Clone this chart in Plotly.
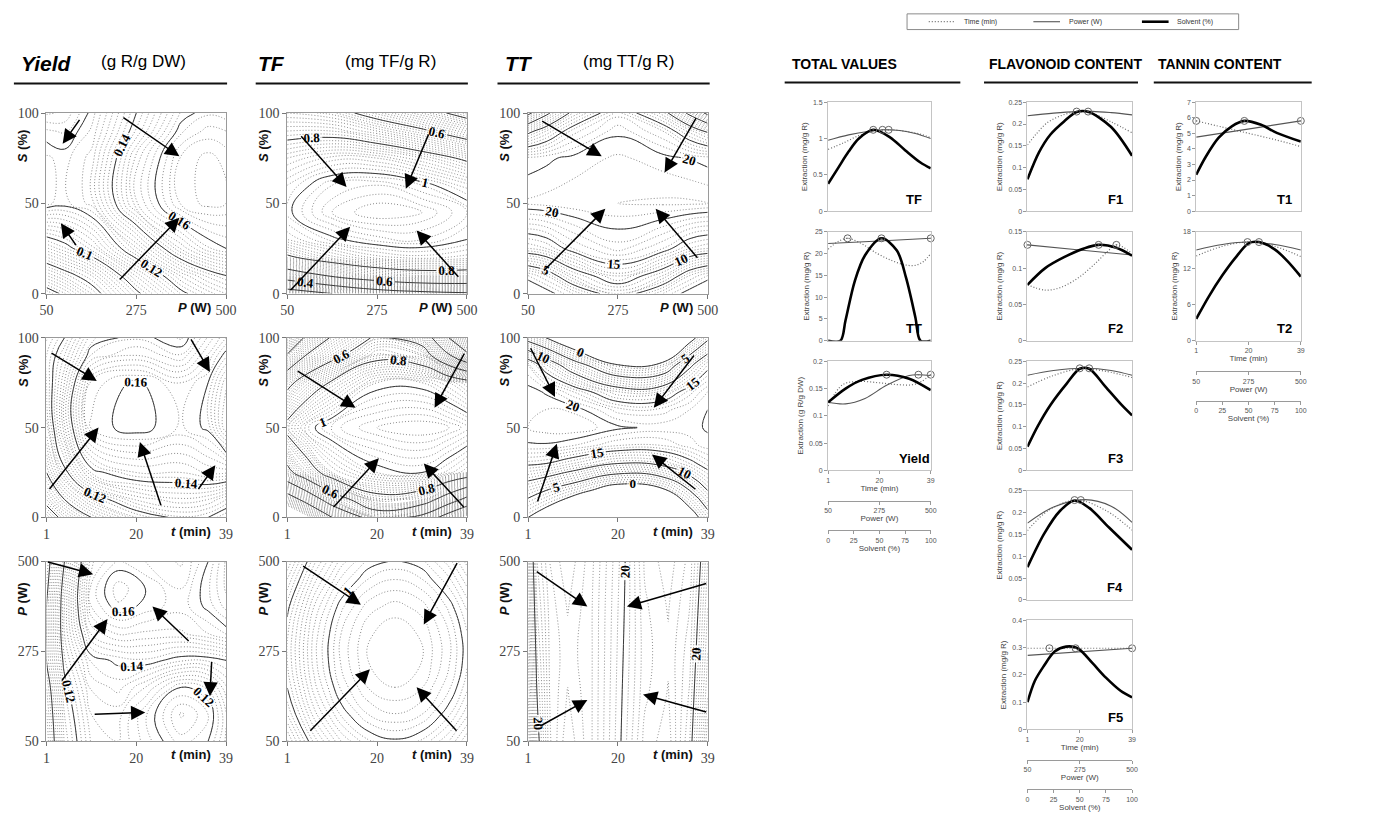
import plotly.graph_objects as go

W, H = 1374, 814

# ---------------- axis variables ----------------
P_RANGE = [50, 500]
T_RANGE = [1, 39]
S_RANGE = [0, 100]
P_TICKS = [50, 275, 500]
T_TICKS = [1, 20, 39]
S_TICKS = [0, 50, 100]
POWER_TICKS = [50, 275, 500]
SOLVENT_TICKS = [0, 25, 50, 75, 100]
TIME_TICKS = [0, 0.5, 1]
TIME_TICKTEXT = ['1', '20', '39']
LEGEND_NAMES = ['Time (min)', 'Power (W)', 'Solvent (%)']

# ---------------- contour surfaces (grid nodes as fraction of axis range) ----------------
# A: Yield, P x S
A_U = [0, .1, .25, .5, .75, .9, 1]
A_V = [0, .1, .25, .5, .75, .9, 1]
A_Z = [[0.055, 0.062, 0.075, 0.098, 0.118, 0.126, 0.13],
       [0.07, 0.076, 0.085, 0.108, 0.128, 0.136, 0.14],
       [0.092, 0.097, 0.106, 0.127, 0.148, 0.157, 0.16],
       [0.123, 0.1215, 0.126, 0.152, 0.168, 0.171, 0.17],
       [0.123, 0.1215, 0.126, 0.151, 0.168, 0.171, 0.169],
       [0.118, 0.117, 0.123, 0.143, 0.162, 0.166, 0.165],
       [0.112, 0.113, 0.121, 0.14, 0.158, 0.162, 0.161]]
# B: TF, P x S
B_U = [0, .25, .5, .75, 1]
B_V = [0, .05, .1, .2, .3, .45, .6, .75, .9, 1]
B_Z = [[0.1, 0.2, 0.3, 0.35, 0.38],
       [0.3, 0.42, 0.52, 0.57, 0.58],
       [0.5, 0.62, 0.7, 0.74, 0.74],
       [0.78, 0.87, 0.93, 0.95, 0.93],
       [0.92, 0.99, 1.03, 1.04, 1.0],
       [0.99, 1.08, 1.12, 1.1, 1.04],
       [0.96, 1.04, 1.06, 1.02, 0.95],
       [0.88, 0.93, 0.92, 0.86, 0.78],
       [0.76, 0.76, 0.7, 0.62, 0.52],
       [0.68, 0.65, 0.55, 0.46, 0.35]]
# C: TT, P x S
C_U = [0, .1, .25, .5, .75, .9, 1]
C_V = [0, .1, .25, .5, .75, .9, 1]
C_Z = [[-3, -1, 2, 7, 2, -1, -3],
       [1, 3, 8, 12.5, 8, 3, 1],
       [12, 13, 16, 18.5, 16, 13, 12],
       [21.2, 21.4, 21.7, 22, 22.2, 22.2, 22],
       [19.3, 19.7, 20.4, 21.2, 20.5, 19.9, 19.5],
       [9, 12, 16.5, 19.7, 17, 12.5, 9.5],
       [-1, 4, 11, 17.5, 11.5, 4, -1]]
# D: Yield, t x S
D_U = [0, .1, .25, .5, .75, .9, 1]
D_V = [0, .1, .25, .5, .75, .9, 1]
D_Z = [[0.07, 0.085, 0.1, 0.115, 0.122, 0.12, 0.115],
       [0.085, 0.1, 0.115, 0.128, 0.132, 0.13, 0.125],
       [0.1, 0.118, 0.138, 0.145, 0.145, 0.148, 0.148],
       [0.112, 0.132, 0.158, 0.162, 0.157, 0.161, 0.175],
       [0.115, 0.13, 0.156, 0.161, 0.155, 0.16, 0.172],
       [0.115, 0.125, 0.143, 0.148, 0.143, 0.153, 0.162],
       [0.112, 0.12, 0.137, 0.142, 0.137, 0.148, 0.155]]
# E: TF, t x S
E_U = [0, .1, .25, .5, .75, .9, 1]
E_V = [0, .1, .25, .5, .75, .9, 1]
E_Z = [[-0.2, -0.05, 0.2, 0.5, 0.35, 0.1, -0.05],
       [0.1, 0.25, 0.5, 0.75, 0.7, 0.5, 0.35],
       [0.55, 0.7, 0.88, 0.98, 1.0, 0.95, 0.9],
       [0.85, 0.97, 1.05, 1.1, 1.12, 1.1, 1.07],
       [0.55, 0.68, 0.82, 0.98, 0.98, 0.92, 0.86],
       [0.22, 0.4, 0.55, 0.76, 0.7, 0.42, 0.25],
       [0.0, 0.22, 0.42, 0.63, 0.52, 0.2, 0.0]]
# F: TT, t x S
F_U = [0, .1, .25, .5, .75, .9, 1]
F_V = [0, .15, .3, .4, .5, .6, .7, .85, 1]
F_Z = [[0, -3, -8, -14, -10, -3, 3],
       [7, 5, 2, -3, -1, 5, 10],
       [15.5, 15, 13, 10, 11, 14, 16.5],
       [19.8, 19.8, 19, 17, 17, 18.5, 19.5],
       [21, 21.5, 21.8, 20.3, 19.6, 19.5, 20.2],
       [20.8, 21, 20.8, 17.5, 17.5, 19, 20],
       [20.6, 19.8, 17, 12, 12.5, 16.5, 19],
       [18, 13, 7, 0, 1, 9, 14],
       [3, 0, -5, -12, -10, -2, 4]]
# G: Yield, t x P
G_U = [0, .1, .25, .4, .55, .75, .9, 1]
G_V = [0, .15, .3, .45, .6, .75, .85, 1]
G_Z = [[0.09, 0.113, 0.128, 0.13, 0.124, 0.116, 0.12, 0.128],
       [0.092, 0.115, 0.13, 0.131, 0.123, 0.112, 0.117, 0.127],
       [0.095, 0.118, 0.133, 0.136, 0.13, 0.12, 0.123, 0.132],
       [0.1, 0.122, 0.138, 0.141, 0.142, 0.138, 0.138, 0.14],
       [0.1, 0.125, 0.148, 0.153, 0.152, 0.152, 0.155, 0.158],
       [0.1, 0.125, 0.155, 0.162, 0.159, 0.156, 0.161, 0.166],
       [0.098, 0.124, 0.156, 0.164, 0.16, 0.155, 0.162, 0.168],
       [0.095, 0.12, 0.152, 0.158, 0.155, 0.152, 0.16, 0.168]]
# H: TF, t x P
H_U = [0, .15, .3, .45, .6, .75, .9, 1]
H_V = [0, .15, .3, .45, .6, .75, .9, 1]
H_Z = [[0.696, 0.827, 0.920, 0.976, 0.995, 0.976, 0.920, 0.862],
       [0.760, 0.891, 0.984, 1.040, 1.059, 1.040, 0.984, 0.926],
       [0.801, 0.932, 1.025, 1.081, 1.100, 1.081, 1.025, 0.967],
       [0.820, 0.951, 1.044, 1.100, 1.119, 1.100, 1.044, 0.986],
       [0.816, 0.947, 1.040, 1.096, 1.115, 1.096, 1.040, 0.982],
       [0.790, 0.921, 1.014, 1.070, 1.089, 1.070, 1.014, 0.956],
       [0.741, 0.872, 0.965, 1.021, 1.040, 1.021, 0.965, 0.907],
       [0.700, 0.835, 0.930, 0.986, 1.005, 0.986, 0.930, 0.872]]
# I: TT, t x P
I_U = [0, .05, .12, .22, .35, .53, .65, .78, .9, .95, 1]
I_V = [0, .25, .5, .75, 1]
I_Z = [[15.5, 19.5, 22.4, 23.9, 22.6, 19.8, 17.8, 17.2, 19.5, 21.5, 24],
       [16.5, 20, 22.5, 23.55, 22.6, 19.9, 18.1, 17.45, 19.1, 21, 23],
       [17, 20.5, 22.6, 23.3, 22.6, 20, 18.2, 17.6, 18.8, 20.5, 22.5],
       [17.5, 21, 22.7, 23.55, 22.6, 20.1, 18.1, 17.45, 18.5, 20.1, 22],
       [18, 21.5, 23, 23.9, 22.7, 20.2, 17.9, 17.2, 18.2, 19.6, 21.5]]

# arrows: (tail_u, tail_v, head_u, head_v), fractions of axis ranges
A_ARROWS = [(0.19, 0.97, 0.09, 0.83), (0.42, 0.98, 0.74, 0.76), (0.17, 0.26, 0.08, 0.39), (0.40, 0.07, 0.74, 0.42)]
B_ARROWS = [(0.07, 0.88, 0.33, 0.59), (0.79, 0.89, 0.66, 0.58), (0.01, 0.01, 0.35, 0.37), (0.96, 0.085, 0.72, 0.35)]
C_ARROWS = [(0.07, 0.96, 0.41, 0.76), (0.94, 0.98, 0.76, 0.67), (0.08, 0.12, 0.43, 0.47), (0.95, 0.19, 0.71, 0.47)]
D_ARROWS = [(0.02, 0.92, 0.28, 0.76), (0.80, 1.0, 0.91, 0.81), (0.01, 0.15, 0.29, 0.50), (0.64, 0.06, 0.52, 0.42), (0.84, 0.15, 0.94, 0.29)]
E_ARROWS = [(0.05, 0.82, 0.38, 0.61), (0.99, 0.92, 0.82, 0.61), (0.25, 0.05, 0.51, 0.33), (0.99, 0.05, 0.76, 0.30)]
F_ARROWS = [(0.01, 0.95, 0.15, 0.67), (0.93, 0.91, 0.70, 0.61), (0.05, 0.08, 0.16, 0.41), (0.94, 0.15, 0.69, 0.35)]
G_ARROWS = [(0.0, 1.0, 0.26, 0.93), (0.08, 0.33, 0.34, 0.68), (0.80, 0.55, 0.59, 0.75), (0.92, 0.45, 0.91, 0.25), (0.26, 0.15, 0.55, 0.16)]
H_ARROWS = [(0.08, 0.98, 0.41, 0.76), (0.95, 1.0, 0.76, 0.65), (0.12, 0.05, 0.46, 0.40), (0.95, 0.05, 0.72, 0.30)]
I_ARROWS = [(0.04, 0.95, 0.33, 0.75), (1.0, 0.88, 0.55, 0.75), (0.06, 0.08, 0.33, 0.23), (1.0, 0.16, 0.64, 0.26)]

# ---------------- line panels (x as fraction of factor range) ----------------
TF_TIME_X = [0, .15, .3, .45, .6, .75, .9, 1];        TF_TIME_Y = [0.85, 0.94, 1.04, 1.1, 1.12, 1.1, 1.06, 1.01]
TF_POW_X = [0, .2, .4, .53, .7, .85, 1];              TF_POW_Y = [0.975, 1.05, 1.1, 1.12, 1.11, 1.07, 1.0]
TF_SOL_X = [0, .1, .2, .3, .44, .6, .75, .9, 1];      TF_SOL_Y = [0.377, 0.6, 0.82, 1.0, 1.12, 1.02, 0.84, 0.67, 0.59]
TF_OPT_X = [0.44, 0.53, 0.59];                        TF_OPT_Y = [1.12, 1.12, 1.12]

TT_TIME_X = [0, .1, .19, .3, .48, .62, .75, .85, .93, 1]; TT_TIME_Y = [21, 22.8, 23.5, 22.6, 20, 18.4, 17.4, 17.3, 18.2, 20]
TT_POW_X = [0, .5, 1];                                TT_POW_Y = [22.3, 22.9, 23.5]
TT_SOL_X = [0, .12, .17, .26, .36, .52, .67, .76, .85, .9, 1]; TT_SOL_Y = [0, 0, 4.7, 13.7, 19.6, 23.5, 20.7, 14.4, 5.4, 0, 0]
TT_OPT_X = [0.19, 0.52, 1.0];                         TT_OPT_Y = [23.5, 23.5, 23.5]

YL_TIME_X = [0, .14, .29, .48, .63, .82, .91, 1];     YL_TIME_Y = [0.118, 0.157, 0.163, 0.161, 0.158, 0.157, 0.163, 0.1755]
YL_POW_X = [0, .17, .36, .57, .79, .88, 1];           YL_POW_Y = [0.125, 0.122, 0.132, 0.156, 0.174, 0.1755, 0.174]
YL_SOL_X = [0, .17, .33, .57, .79, 1];                YL_SOL_Y = [0.1248, 0.15, 0.166, 0.1755, 0.168, 0.147]
YL_OPT_X = [0.57, 0.88, 1.0];                         YL_OPT_Y = [0.1755, 0.1755, 0.1755]

F1_TIME_X = [0, .08, .19, .32, .47, .62, .8, 1];      F1_TIME_Y = [0.152, 0.176, 0.203, 0.219, 0.228, 0.224, 0.205, 0.18]
F1_POW_X = [0, .25, .47, .62, .8, 1];                 F1_POW_Y = [0.219, 0.225, 0.2285, 0.229, 0.226, 0.221]
F1_SOL_X = [0, .11, .22, .35, .47, .58, .8, 1];       F1_SOL_Y = [0.073, 0.135, 0.176, 0.206, 0.2275, 0.228, 0.193, 0.127]
F1_OPT_X = [0.47, 0.58];                              F1_OPT_Y = [0.2285, 0.2285]

F2_TIME_X = [0, .17, .31, .48, .63, .76, .85, 1];     F2_TIME_Y = [0.077, 0.0697, 0.073, 0.086, 0.104, 0.122, 0.132, 0.12]
F2_POW_X = [0, .5, 1];                                F2_POW_Y = [0.132, 0.125, 0.118]
F2_SOL_X = [0, .17, .35, .54, .68, .85, 1];           F2_SOL_Y = [0.077, 0.1, 0.115, 0.127, 0.132, 0.128, 0.117]
F2_OPT_X = [0, 0.68, 0.85];                           F2_OPT_Y = [0.132, 0.132, 0.132]

F3_TIME_X = [0, .22, .5, .75, 1];                     F3_TIME_Y = [0.191, 0.215, 0.233, 0.227, 0.213]
F3_POW_X = [0, .25, .55, .8, 1];                      F3_POW_Y = [0.218, 0.229, 0.234, 0.229, 0.218]
F3_SOL_X = [0, .1, .22, .375, .5, .59, .745, .9, 1];  F3_SOL_Y = [0.054, 0.102, 0.15, 0.199, 0.233, 0.233, 0.192, 0.15, 0.126]
F3_OPT_X = [0.5, 0.59];                               F3_OPT_Y = [0.234, 0.234]

F4_TIME_X = [0, .2, .47, .75, 1];                     F4_TIME_Y = [0.159, 0.205, 0.229, 0.205, 0.16]
F4_POW_X = [0, .25, .55, .8, 1];                      F4_POW_Y = [0.176, 0.213, 0.23, 0.215, 0.178]
F4_SOL_X = [0, .16, .31, .45, .59, .78, 1];           F4_SOL_Y = [0.075, 0.152, 0.204, 0.228, 0.211, 0.166, 0.115]
F4_OPT_X = [0.45, 0.51];                              F4_OPT_Y = [0.229, 0.229]

F5_TIME_X = [0, .5, 1];                               F5_TIME_Y = [0.298, 0.298, 0.298]
F5_POW_X = [0, 1];                                    F5_POW_Y = [0.272, 0.298]
F5_SOL_X = [0, .07, .155, .26, .37, .48, .62, .75, .89, 1]; F5_SOL_Y = [0.1, 0.178, 0.232, 0.286, 0.304, 0.298, 0.244, 0.19, 0.142, 0.118]
F5_OPT_X = [0.21, 0.46, 1.0];                         F5_OPT_Y = [0.298, 0.298, 0.298]

T1_TIME_X = [0, .25, .5, .75, 1];                     T1_TIME_Y = [5.8, 5.4, 5.0, 4.6, 4.15]
T1_POW_X = [0, 1];                                    T1_POW_Y = [4.76, 5.8]
T1_SOL_X = [0, .09, .215, .34, .46, .62, .77, 1];     T1_SOL_Y = [2.34, 3.48, 4.72, 5.45, 5.8, 5.55, 5.03, 4.47]
T1_OPT_X = [0, 0.46, 1];                              T1_OPT_Y = [5.8, 5.8, 5.8]

T2_TIME_X = [0, .25, .5, .75, 1];                     T2_TIME_Y = [14.0, 15.6, 16.3, 15.6, 13.9]
T2_POW_X = [0, .25, .5, .75, 1];                      T2_POW_Y = [15.0, 15.9, 16.3, 15.9, 15.0]
T2_SOL_X = [0, .12, .25, .37, .5, .6, .75, .87, 1];   T2_SOL_Y = [3.6, 7.3, 10.8, 13.6, 16.1, 16.3, 15.1, 13.2, 10.6]
T2_OPT_X = [0.49, 0.6];                               T2_OPT_Y = [16.3, 16.3]

# ---------------- helpers ----------------
fig = go.Figure()
layout = {}
annotations = []
shapes = []
counter = [0]

DOT = '1px,2px'
TIME_STYLE = dict(color='#6a6a6a', width=1.2, dash=DOT)
POW_STYLE = dict(color='#555555', width=1.1)
SOL_STYLE = dict(color='black', width=2.6)


def xdom(a, b):
    return [a / W, b / W]


def ydom(top, bottom):
    return [1 - bottom / H, 1 - top / H]


def new_axes(xd, yd, xcfg, ycfg):
    counter[0] += 1
    i = counter[0]
    sfx = '' if i == 1 else str(i)
    layout['xaxis' + sfx] = dict(domain=xd, anchor='y' + sfx, **xcfg)
    layout['yaxis' + sfx] = dict(domain=yd, anchor='x' + sfx, **ycfg)
    return 'x' + sfx, 'y' + sfx


def scale(fr, rng):
    return [rng[0] + f * (rng[1] - rng[0]) for f in fr]


def ptext(x, y, text, size, anchor='left', color='black', family='Liberation Sans', angle=0):
    annotations.append(dict(x=x / W, y=1 - y / H, xref='paper', yref='paper', text=text, showarrow=False,
                            xanchor=anchor, yanchor='middle', textangle=angle,
                            font=dict(family=family, size=size, color=color)))


def hline(x0, x1, y, width=2, color='#111', dash='solid'):
    shapes.append(dict(type='line', xref='paper', yref='paper', x0=x0 / W, x1=x1 / W,
                       y0=1 - y / H, y1=1 - y / H, line=dict(color=color, width=width, dash=dash)))


# ---------------- contour grid ----------------
VARS = {'P': (P_RANGE, P_TICKS, '<b><i>P</i> (W)</b>'),
        't': (T_RANGE, T_TICKS, '<b><i>t</i> (min)</b>'),
        'S': (S_RANGE, S_TICKS, '<b><i>S</i> (%)</b>')}

COLS_PX = [(40, 222), (284, 466), (528, 710)]
ROWS_PX = [(108, 292), (337, 520), (565, 748)]
ROW_VARS = [('P', 'S'), ('t', 'S'), ('t', 'P')]

LEVELS = [dict(major=(0.06, 0.18, 0.02), minor=(0.04, 0.2, 0.0025), fmt='.2~f'),
          dict(major=(0.2, 1.2, 0.2), minor=(0.0, 1.2, 0.02), fmt='.1~f'),
          dict(major=(0, 20, 5), minor=(0, 25, 1), fmt='d')]

PANELS = [[(A_U, A_V, A_Z, A_ARROWS), (B_U, B_V, B_Z, B_ARROWS), (C_U, C_V, C_Z, C_ARROWS)],
          [(D_U, D_V, D_Z, D_ARROWS), (E_U, E_V, E_Z, E_ARROWS), (F_U, F_V, F_Z, F_ARROWS)],
          [(G_U, G_V, G_Z, G_ARROWS), (H_U, H_V, H_Z, H_ARROWS), (I_U, I_V, I_Z, I_ARROWS)]]

SERIF = 'Liberation Serif'
for r, (top, bot) in enumerate(ROWS_PX):
    xv, yv = ROW_VARS[r]
    xrng, xticks, xtitle = VARS[xv]
    yrng, yticks, ytitle = VARS[yv]
    for c, (left, right) in enumerate(COLS_PX):
        U, V, Z, ARR = PANELS[r][c]
        axcommon = dict(showgrid=False, zeroline=False, showline=True, mirror=True, linecolor='#9a9a9a',
                        linewidth=1, ticks='outside', ticklen=4, tickcolor='#777',
                        tickfont=dict(family=SERIF, size=14, color='#444'))
        xr, yr = new_axes(xdom(left, right), ydom(top, bot),
                          dict(range=xrng, tickvals=xticks, **axcommon),
                          dict(range=yrng, tickvals=yticks, **axcommon))
        xs = scale(U, xrng)
        ys = scale(V, yrng)
        lv = LEVELS[c]
        minor = lv['minor']
        if r == 2 and c == 2:
            minor = (15, 25, 0.5)
        fig.add_trace(go.Contour(x=xs, y=ys, z=Z, xaxis=xr, yaxis=yr, autocontour=False, showscale=False,
                                 hoverinfo='skip', showlegend=False,
                                 contours=dict(coloring='none', start=minor[0], end=minor[1], size=minor[2]),
                                 line=dict(color='#7f7f7f', width=0.9, dash=DOT, smoothing=1.3)))
        mj = lv['major']
        fig.add_trace(go.Contour(x=xs, y=ys, z=Z, xaxis=xr, yaxis=yr, autocontour=False, showscale=False,
                                 hoverinfo='skip', showlegend=False,
                                 contours=dict(coloring='none', start=mj[0], end=mj[1], size=mj[2],
                                               showlabels=True, labelformat=lv['fmt'],
                                               labelfont=dict(family=SERIF, size=13, color='black',
                                                              weight='bold')),
                                 line=dict(color='#3a3a3a', width=1, smoothing=1.3)))
        for (tu, tv, hu, hv) in ARR:
            tx, hx = scale([tu, hu], xrng)
            ty, hy = scale([tv, hv], yrng)
            annotations.append(dict(x=hx, y=hy, ax=tx, ay=ty, xref=xr, yref=yr, axref=xr, ayref=yr,
                                    text='', showarrow=True, arrowhead=2, arrowsize=1.9, arrowwidth=1.5,
                                    arrowcolor='black', standoff=0))
        ptext(right - 13, bot + 14, xtitle, 13, anchor='right', color='#111')
        ptext(left - 24, top + (38 if r == 2 else 33), ytitle, 13, anchor='center', color='#111', angle=-90)

# headers (left)
ptext(12, 58, '<b><i>Yield</i></b>', 21)
ptext(93, 56, '(g R/g DW)', 17)
ptext(252, 58, '<b><i>TF</i></b>', 21)
ptext(340, 56, '(mg TF/g R)', 17)
ptext(503, 58, '<b><i>TT</i></b>', 21)
ptext(582, 56, '(mg TT/g R)', 17)
hline(7, 223, 78)
hline(252, 467, 78)
hline(497, 712, 78)

# headers (right)
ptext(793, 58, '<b>TOTAL VALUES</b>', 14)
ptext(993, 58, '<b>FLAVONOID CONTENT</b>', 14)
ptext(1164, 58, '<b>TANNIN CONTENT</b>', 14)
hline(788, 966, 77)
hline(990, 1146, 77)
hline(1162, 1322, 77)

# legend box (drawn by hand)
shapes.append(dict(type='rect', xref='paper', yref='paper', x0=912 / W, x1=1248 / W, y0=1 - 23 / H, y1=1 - 7 / H,
                   line=dict(color='#8a8a8a', width=1), fillcolor='white'))
for (x0, name, sty) in ((934, LEGEND_NAMES[0], TIME_STYLE), (1040, LEGEND_NAMES[1], POW_STYLE),
                        (1150, LEGEND_NAMES[2], SOL_STYLE)):
    hline(x0, x0 + 27, 15, width=sty['width'], color=sty['color'], dash=sty.get('dash', 'solid'))
    ptext(x0 + 34, 15, name, 7, color='#333')

# ---------------- line panels ----------------
LCOLS = [(832, 936), (1034, 1140), (1205, 1311)]
LROWS = [(97, 208), (229, 340), (361, 472), (493, 604), (625, 736)]

LINE_PANELS = [
    dict(label='TF', col=0, row=0, ymax=1.5, dtick=0.5, yt='Extraction (mg/g R)',
         t=(TF_TIME_X, TF_TIME_Y), p=(TF_POW_X, TF_POW_Y), s=(TF_SOL_X, TF_SOL_Y), o=(TF_OPT_X, TF_OPT_Y)),
    dict(label='TT', col=0, row=1, ymax=25, dtick=5, yt='Extraction (mg/g R)',
         t=(TT_TIME_X, TT_TIME_Y), p=(TT_POW_X, TT_POW_Y), s=(TT_SOL_X, TT_SOL_Y), o=(TT_OPT_X, TT_OPT_Y)),
    dict(label='Yield', col=0, row=2, ymax=0.2, dtick=0.05, yt='Extraction (g R/g DW)', bottom=True,
         t=(YL_TIME_X, YL_TIME_Y), p=(YL_POW_X, YL_POW_Y), s=(YL_SOL_X, YL_SOL_Y), o=(YL_OPT_X, YL_OPT_Y)),
    dict(label='F1', col=1, row=0, ymax=0.25, dtick=0.05, yt='Extraction (mg/g R)',
         t=(F1_TIME_X, F1_TIME_Y), p=(F1_POW_X, F1_POW_Y), s=(F1_SOL_X, F1_SOL_Y), o=(F1_OPT_X, F1_OPT_Y)),
    dict(label='F2', col=1, row=1, ymax=0.15, dtick=0.05, yt='Extraction (mg/g R)',
         t=(F2_TIME_X, F2_TIME_Y), p=(F2_POW_X, F2_POW_Y), s=(F2_SOL_X, F2_SOL_Y), o=(F2_OPT_X, F2_OPT_Y)),
    dict(label='F3', col=1, row=2, ymax=0.25, dtick=0.05, yt='Extraction (mg/g R)',
         t=(F3_TIME_X, F3_TIME_Y), p=(F3_POW_X, F3_POW_Y), s=(F3_SOL_X, F3_SOL_Y), o=(F3_OPT_X, F3_OPT_Y)),
    dict(label='F4', col=1, row=3, ymax=0.25, dtick=0.05, yt='Extraction (mg/g R)',
         t=(F4_TIME_X, F4_TIME_Y), p=(F4_POW_X, F4_POW_Y), s=(F4_SOL_X, F4_SOL_Y), o=(F4_OPT_X, F4_OPT_Y)),
    dict(label='F5', col=1, row=4, ymax=0.4, dtick=0.1, yt='Extraction (mg/g R)', bottom=True,
         t=(F5_TIME_X, F5_TIME_Y), p=(F5_POW_X, F5_POW_Y), s=(F5_SOL_X, F5_SOL_Y), o=(F5_OPT_X, F5_OPT_Y)),
    dict(label='T1', col=2, row=0, ymax=7, dtick=1, yt='Extraction (mg/g R)',
         t=(T1_TIME_X, T1_TIME_Y), p=(T1_POW_X, T1_POW_Y), s=(T1_SOL_X, T1_SOL_Y), o=(T1_OPT_X, T1_OPT_Y)),
    dict(label='T2', col=2, row=1, ymax=18, dtick=6, yt='Extraction (mg/g R)', bottom=True,
         t=(T2_TIME_X, T2_TIME_Y), p=(T2_POW_X, T2_POW_Y), s=(T2_SOL_X, T2_SOL_Y), o=(T2_OPT_X, T2_OPT_Y)),
]

SANS = 'Liberation Sans'
small = dict(family=SANS, size=7, color='#555')
for pnl in LINE_PANELS:
    left, right = LCOLS[pnl['col']]
    top, bot = LROWS[pnl['row']]
    is_bottom = pnl.get('bottom', False)
    xcfg = dict(range=[0, 1], showgrid=False, zeroline=False, showline=True, mirror=True, linecolor='#c4c4c4',
                linewidth=1)
    if is_bottom:
        xcfg.update(tickvals=TIME_TICKS, ticktext=TIME_TICKTEXT, ticks='outside', ticklen=3, tickcolor='#999',
                    tickfont=small, title=dict(text='Time (min)', font=dict(family=SANS, size=8, color='#444'),
                                               standoff=1))
    else:
        xcfg.update(showticklabels=False, ticks='')
    ycfg = dict(range=[0, pnl['ymax']], dtick=pnl['dtick'], showgrid=False, zeroline=False, showline=True,
                mirror=True, linecolor='#c4c4c4', linewidth=1, ticks='outside', ticklen=3, tickcolor='#999',
                tickfont=small, title=dict(text=pnl['yt'], font=dict(family=SANS, size=8, color='#444'),
                                           standoff=4))
    xr, yr = new_axes(xdom(left, right), ydom(top, bot), xcfg, ycfg)
    fig.add_trace(go.Scatter(x=pnl['t'][0], y=pnl['t'][1], xaxis=xr, yaxis=yr, mode='lines', name=LEGEND_NAMES[0],
                             showlegend=False, hoverinfo='skip',
                             line=dict(shape='spline', smoothing=1.0, **TIME_STYLE)))
    fig.add_trace(go.Scatter(x=pnl['p'][0], y=pnl['p'][1], xaxis=xr, yaxis=yr, mode='lines', name=LEGEND_NAMES[1],
                             showlegend=False, hoverinfo='skip',
                             line=dict(shape='spline', smoothing=1.0, **POW_STYLE)))
    fig.add_trace(go.Scatter(x=pnl['s'][0], y=pnl['s'][1], xaxis=xr, yaxis=yr, mode='lines', name=LEGEND_NAMES[2],
                             showlegend=False, hoverinfo='skip',
                             line=dict(shape='spline', smoothing=0.9, **SOL_STYLE)))
    fig.add_trace(go.Scatter(x=pnl['o'][0], y=pnl['o'][1], xaxis=xr, yaxis=yr, mode='markers', showlegend=False,
                             hoverinfo='skip', cliponaxis=False,
                             marker=dict(symbol='circle-open-dot', size=7, color='#666',
                                         line=dict(width=1, color='#666'))))
    annotations.append(dict(x=0.84, y=0.11, xref=xr + ' domain', yref=yr + ' domain', text='<b>%s</b>' % pnl['label'],
                            showarrow=False, xanchor='center', yanchor='middle',
                            font=dict(family=SANS, size=13, color='black')))
    if is_bottom:
        line_y = bot + 31
        for rng_ticks, title in ((POWER_TICKS, 'Power (W)'), (SOLVENT_TICKS, 'Solvent (%)')):
            xr2, yr2 = new_axes(xdom(left, right), [1 - line_y / H, 1 - line_y / H + 0.002],
                                dict(range=[rng_ticks[0], rng_ticks[-1]], tickvals=rng_ticks, showgrid=False,
                                     zeroline=False, showline=True, linecolor='#9a9a9a', linewidth=1,
                                     ticks='outside', ticklen=3, tickcolor='#999', tickfont=small,
                                     title=dict(text=title, font=dict(family=SANS, size=8, color='#444'),
                                                standoff=1)),
                                dict(visible=False, range=[0, 1]))
            fig.add_trace(go.Scatter(x=rng_ticks, y=[0.5] * len(rng_ticks), xaxis=xr2, yaxis=yr2, mode='markers',
                                     marker=dict(opacity=0), showlegend=False, hoverinfo='skip'))
            line_y += 30

layout['annotations'] = annotations
layout['shapes'] = shapes
fig.update_layout(**layout)
fig.update_layout(width=W, height=H, margin=dict(l=0, r=0, t=0, b=0), paper_bgcolor='white',
                  plot_bgcolor='white', showlegend=False)
fig.write_html('out.html')
